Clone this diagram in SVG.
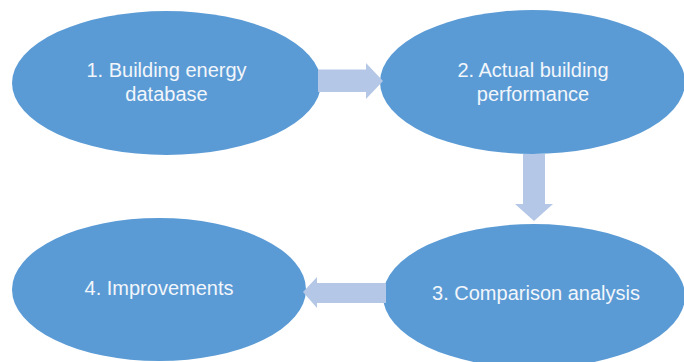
<svg xmlns="http://www.w3.org/2000/svg" width="684" height="362" viewBox="0 0 684 362">
<style>
.node{fill:#5B9BD5;}
.lbl{font-family:"Liberation Sans",Arial,sans-serif;font-size:20px;fill:#F2F6FB;text-anchor:middle;}
.arr{fill:#B4C7E7;}
</style>
<rect width="684" height="362" fill="#FFFFFF"/>
<g id="node1">
<ellipse class="node" cx="166.5" cy="83" rx="154.5" ry="72"/>
<text class="lbl" x="166.5" y="77">1. Building energy</text>
<text class="lbl" x="166.5" y="101">database</text>
</g>
<g id="node2">
<ellipse class="node" cx="532.5" cy="82" rx="152.5" ry="72"/>
<text class="lbl" x="533" y="77">2. Actual building</text>
<text class="lbl" x="533" y="101">performance</text>
</g>
<g id="node3">
<ellipse class="node" cx="534" cy="296" rx="151" ry="72"/>
<text class="lbl" x="536" y="300">3. Comparison analysis</text>
</g>
<g id="node4">
<ellipse class="node" cx="159" cy="289.5" rx="147" ry="71.5"/>
<text class="lbl" x="159" y="295">4. Improvements</text>
</g>
<g id="connectors">
<polygon class="arr" points="318,69.5 366,69.5 366,63 383,81 366,99 366,92 318,92"/>
<polygon class="arr" points="523,154 545,154 545,204 553,204 534,221 515,204 523,204"/>
<polygon class="arr" points="386,283 317,283 317,277 303,292 317,308 317,303 386,303"/>
</g>
</svg>
